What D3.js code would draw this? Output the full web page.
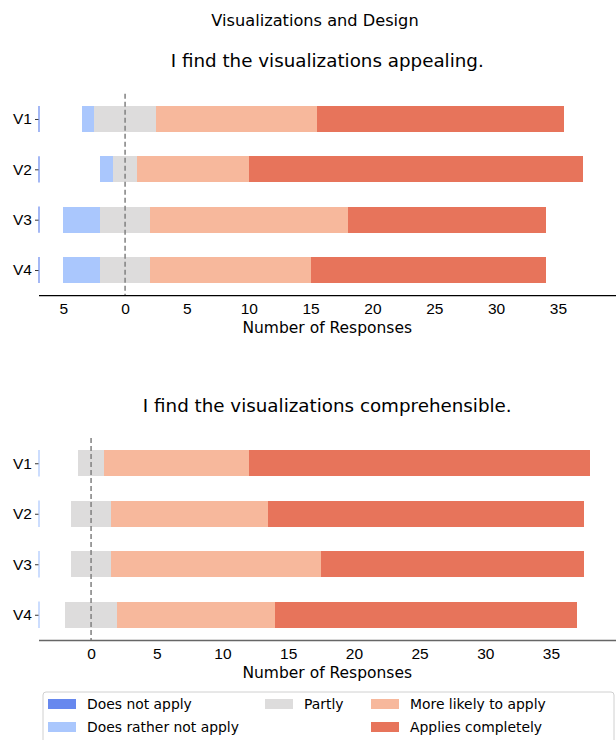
<!DOCTYPE html>
<html>
<head>
<meta charset="utf-8">
<script src="https://cdn.jsdelivr.net/npm/d3@7"></script>
<style>
  body { margin: 0; background: #fff; }
  svg { font-family: "DejaVu Sans", sans-serif; }
</style>
</head>
<body>
<div id="chart"></div>
<script>
// answer categories, left to right
var answers = ["Does not apply", "Does rather not apply", "Partly", "More likely to apply", "Applies completely"];
var colors = ["#6788ee", "#aac7fd", "#dddcdc", "#f7b89c", "#e7745b"];
var versions = ["V1", "V2", "V3", "V4"];

// counts per version, in the order of answers
var appealing = [
  [0, 1, 5, 13, 20],
  [0, 1, 2, 9, 27],
  [0, 3, 4, 16, 16],
  [0, 3, 4, 13, 19]
];
var comprehensible = [
  [0, 0, 2, 11, 26],
  [0, 0, 3, 12, 24],
  [0, 0, 3, 16, 20],
  [0, 0, 4, 12, 23]
];

var appealingTicks = [-5, 0, 5, 10, 15, 20, 25, 30, 35];
var comprehensibleTicks = [0, 5, 10, 15, 20, 25, 30, 35];

var W = 616, H = 740;
var svg = d3.select("#chart").append("svg")
    .attr("width", W)
    .attr("height", H);

svg.append("text")
    .attr("x", 315).attr("y", 26)
    .attr("text-anchor", "middle")
    .style("font-size", "16.2px")
    .text("Visualizations and Design");

function panel(cfg) {
  var x = d3.scaleLinear().domain(cfg.domain).range([38.5, cfg.right]);
  var y = d3.scalePoint().domain(versions).range([cfg.top, cfg.bottom]).padding(0.5);
  var bh = y.step() * 0.52;

  var g = svg.append("g");

  g.append("text")
      .attr("x", (38.5 + 616) / 2).attr("y", cfg.top - 26.5)
      .attr("text-anchor", "middle")
      .style("font-size", "18.3px")
      .text(cfg.title);

  // stacked, centred on the middle of "Partly"
  var rows = cfg.data.map(function(d, i) {
    var start = -(d[0] + d[1] + d[2] / 2);
    var segs = [];
    d.forEach(function(v, j) {
      segs.push({v: versions[i], j: j, x0: start, x1: start + v});
      start += v;
    });
    return segs;
  });

  // thin edge at the left, as in the original
  g.selectAll("line.edge")
    .data(versions)
    .enter().append("line")
      .attr("x1", x.range()[0] + 0.5).attr("x2", x.range()[0] + 0.5)
      .attr("y1", function(d) { return y(d) - bh / 2; })
      .attr("y2", function(d) { return y(d) + bh / 2; })
      .attr("stroke", cfg.edge)
      .attr("stroke-width", 1.2);

  g.selectAll("g.row")
    .data(rows)
    .enter().append("g")
    .selectAll("rect")
    .data(function(d) { return d.filter(function(s) { return s.x1 > s.x0; }); })
    .enter().append("rect")
      .attr("x", function(d) { return x(d.x0); })
      .attr("width", function(d) { return x(d.x1) - x(d.x0); })
      .attr("y", function(d) { return y(d.v) - bh / 2; })
      .attr("height", bh)
      .attr("fill", function(d) { return colors[d.j]; })
      .attr("shape-rendering", "crispEdges");

  // zero line
  g.append("line")
      .attr("x1", x(0)).attr("x2", x(0))
      .attr("y1", cfg.top).attr("y2", cfg.bottom)
      .attr("stroke", "#808080")
      .attr("stroke-width", 1.5)
      .attr("stroke-dasharray", "5,3");

  // x axis
  var xa = g.append("g")
      .attr("transform", "translate(0," + cfg.bottom + ")")
      .call(d3.axisBottom(x).tickValues(cfg.ticks).tickSize(0).tickPadding(8)
        .tickFormat(function(d) { return Math.abs(d); }));
  xa.select(".domain").attr("stroke", cfg.axisColor).attr("stroke-width", 1.3);
  xa.selectAll("text").style("font-size", "15.5px").attr("fill", "#000");

  g.append("text")
      .attr("x", (38.5 + 616) / 2).attr("y", cfg.bottom + 37.5)
      .attr("text-anchor", "middle")
      .style("font-size", "15.5px")
      .text("Number of Responses");

  // y axis, ticks only
  var ya = g.append("g")
      .attr("transform", "translate(38.5,0)")
      .call(d3.axisLeft(y).tickSize(3.5).tickPadding(3));
  ya.select(".domain").remove();
  ya.selectAll("line").attr("stroke", "#000").attr("stroke-width", 0.8);
  ya.selectAll("text").style("font-size", "15.5px").attr("fill", "#000");
}

panel({title: "I find the visualizations appealing.", data: appealing, ticks: appealingTicks,
       domain: [-7, 40], right: 619.8, top: 93.8, bottom: 295.2, axisColor: "#000", edge: "#6788ee"});
panel({title: "I find the visualizations comprehensible.", data: comprehensible, ticks: comprehensibleTicks,
       domain: [-4, 40], right: 616.7, top: 438, bottom: 640, axisColor: "#666", edge: "#aac7fd"});

// legend
var leg = svg.append("g").attr("transform", "translate(43,692)");
leg.append("rect")
    .attr("width", 571).attr("height", 60)
    .attr("rx", 3)
    .attr("fill", "#fff")
    .attr("stroke", "#d0d0d0");

var legPos = [[0, 0], [0, 1], [1, 0], [2, 0], [2, 1]];
var colX = [5, 222, 328];
var item = leg.selectAll("g.item")
  .data(answers)
  .enter().append("g")
    .attr("transform", function(d, i) {
      return "translate(" + colX[legPos[i][0]] + "," + (12 + legPos[i][1] * 23) + ")";
    });
item.append("rect")
    .attr("width", 28).attr("height", 10).attr("y", -5)
    .attr("fill", function(d, i) { return colors[i]; });
item.append("text")
    .attr("x", 39).attr("y", 5)
    .style("font-size", "13.9px")
    .text(function(d) { return d; });
</script>
</body>
</html>
